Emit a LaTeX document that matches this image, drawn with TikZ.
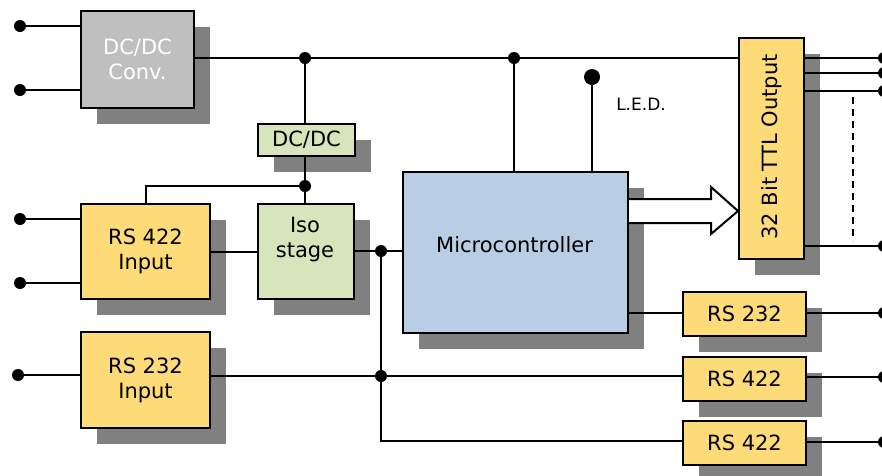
\documentclass[tikz,border=0pt]{standalone}
\usepackage{fontspec}
\setmainfont{DejaVu Sans}
\usetikzlibrary{shadows}
\definecolor{shd}{HTML}{808080}
\definecolor{convfill}{HTML}{BFBFBF}
\definecolor{yel}{HTML}{FEDB79}
\definecolor{grn}{HTML}{D8E4BC}
\definecolor{blu}{HTML}{B9CDE5}
\begin{document}
\begin{tikzpicture}[x=1pt,y=-1pt,
  blk/.style={draw=black, line width=2pt, inner sep=0pt, anchor=north west, align=center,
    font=\fontsize{21}{25}\selectfont,
    general shadow={fill=shd, shadow xshift=16pt, shadow yshift=-16pt}},
  wire/.style={line width=2pt},
  dot/.style={fill=black},
  lbl/.style={font=\fontsize{21}{25}\selectfont, align=center, inner sep=0pt}]
\useasboundingbox (0,0) rectangle (882,475);

% blocks
\node[blk, fill=convfill, text=white, minimum width=113pt, minimum height=97pt] (conv) at (80,10) {DC/DC\\Conv.};
\node[blk, fill=grn, minimum width=97pt, minimum height=32pt] (dcdc) at (257,123) {DC/DC};
\node[blk, fill=yel, minimum width=129pt, minimum height=95pt] (rs422in) at (80,203) {RS 422\\Input};
\node[blk, fill=grn, minimum width=96pt, minimum height=95pt] (iso) at (257,203) {};
\node[lbl] (isotxt) at (305,240) {Iso\\stage};
\node[blk, fill=yel, minimum width=129pt, minimum height=96pt] (rs232in) at (80,331) {RS 232\\Input};
\node[blk, fill=blu, minimum width=225pt, minimum height=161pt] (micro) at (402,171) {};
\node[lbl] (microtxt) at (514.5,245) {Microcontroller};
\node[blk, fill=yel, minimum width=65pt, minimum height=221pt] (ttl) at (738,37) {};
\node[lbl, rotate=90] (ttltxt) at (772,147) {32 Bit TTL Output};
\node[blk, fill=yel, minimum width=123pt, minimum height=44pt] (rs232o) at (682,291) {RS 232};
\node[blk, fill=yel, minimum width=123pt, minimum height=44pt] (rs422a) at (682,356) {RS 422};
\node[blk, fill=yel, minimum width=123pt, minimum height=44pt] (rs422b) at (682,420) {RS 422};
\node[inner sep=0pt, font=\fontsize{17}{20}\selectfont] (ledtxt) at (641,104) {L.E.D.};

% coordinates
\coordinate (i1) at (20,26);
\coordinate (i2) at (20,90);
\coordinate (i3) at (20,219);
\coordinate (i4) at (20,283);
\coordinate (i5) at (18,375);
\coordinate (j1) at (305,58);
\coordinate (j2) at (514,58);
\coordinate (j3) at (305,186);
\coordinate (j4) at (381,251);
\coordinate (j5) at (381,376);
\coordinate (k) at (381,441);
\coordinate (led) at (592,77);
\coordinate (o1) at (884,58);
\coordinate (o2) at (884,73);
\coordinate (o3) at (884,91);
\coordinate (o4) at (884,246);
\coordinate (o5) at (884,313);
\coordinate (o6) at (884,377);
\coordinate (o7) at (884,442);
\coordinate (d1) at (853,97);
\coordinate (d2) at (853,241);

% wires
\draw[wire] (i1) -- (conv.west |- i1);
\draw[wire] (i2) -- (conv.west |- i2);
\draw[wire] (conv.east |- j1) -- (j1) -- (j2) -- (ttl.west |- j1);
\draw[wire] (j1) -- (j1 |- dcdc.north);
\draw[wire] (j1 |- dcdc.south) -- (j3) -- (j3 |- iso.north);
\draw[wire] (j3) -| (rs422in.north);
\draw[wire] (i3) -- (rs422in.west |- i3);
\draw[wire] (i4) -- (rs422in.west |- i4);
\draw[wire] (rs422in.east) -- (iso.west);
\draw[wire] (iso.east |- j4) -- (j4) -- (micro.west |- j4);
\draw[wire] (j2) -- (j2 |- micro.north);
\draw[wire] (led) -- (led |- micro.north);
\draw[wire] (i5) -- (rs232in.west |- i5);
\draw[wire] (rs232in.east |- j5) -- (j5) -- (rs422a.west |- j5);
\draw[wire] (j4) -- (j5) -- (k) -- (rs422b.west |- k);
\draw[wire] (micro.east |- o5) -- (rs232o.west |- o5);
\draw[wire] (rs232o.east |- o5) -- (o5);
\draw[wire] (rs422a.east |- o6) -- (o6);
\draw[wire] (rs422b.east |- o7) -- (o7);
\draw[wire] (ttl.east |- o1) -- (o1);
\draw[wire] (ttl.east |- o2) -- (o2);
\draw[wire] (ttl.east |- o3) -- (o3);
\draw[wire] (ttl.east |- o4) -- (o4);
\draw[line width=1.6pt, dash pattern=on 7pt off 5pt] (d1) -- (d2);

% big arrow
\draw[line width=2pt, fill=white, line join=miter] (micro.east |- 0,199) -- (711,199) -- (711,187) -- (ttl.west |- 0,211)
  -- (711,234) -- (711,223) -- (micro.east |- 0,223);

% dots
\foreach \p in {i1,i2,i3,i4,i5,j1,j2,j3,j4,j5,o1,o2,o3,o4,o5,o6,o7}
  \fill[dot] (\p) circle[radius=6pt];
\fill[dot] (led) circle[radius=8pt];
\end{tikzpicture}
\end{document}
